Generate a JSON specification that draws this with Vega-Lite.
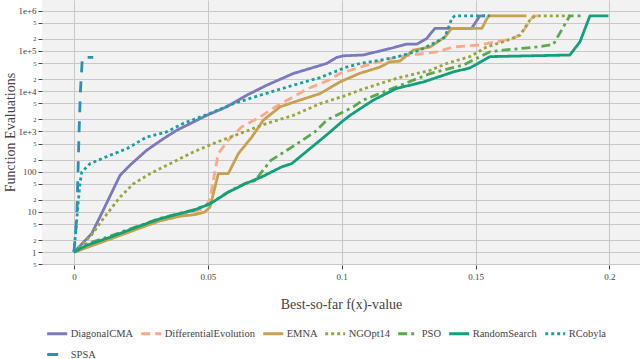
{
"$schema": "https://vega.github.io/schema/vega-lite/v6.json",
"width": 598, "height": 265,
"autosize": "none",
"padding": {"left": 42, "top": 0, "right": 0, "bottom": 94},
"background": "white",
"config": {"view": {"fill": "#f2f2f2", "stroke": null}, "font": "Liberation Serif",
 "axis": {"labelFont": "Liberation Serif", "titleFont": "Liberation Serif"},
 "legend": {"labelFont": "Liberation Serif", "labelFontWeight": "normal", "labelColor": "#444"}},
"data": {"values": [
{"s":"DiagonalCMA","x":0,"y":1},{"s":"DiagonalCMA","x":0.0066,"y":2.88},{"s":"DiagonalCMA","x":0.0109,"y":10.96},{"s":"DiagonalCMA","x":0.0172,"y":81.3},{"s":"DiagonalCMA","x":0.0209,"y":144.5},{"s":"DiagonalCMA","x":0.0271,"y":338.8},{"s":"DiagonalCMA","x":0.0334,"y":660.7},{"s":"DiagonalCMA","x":0.0384,"y":1072},{"s":"DiagonalCMA","x":0.0496,"y":2512},{"s":"DiagonalCMA","x":0.057,"y":4074},{"s":"DiagonalCMA","x":0.0645,"y":7943},{"s":"DiagonalCMA","x":0.072,"y":14125},{"s":"DiagonalCMA","x":0.0819,"y":27542},{"s":"DiagonalCMA","x":0.0944,"y":48978},{"s":"DiagonalCMA","x":0.0981,"y":69183},{"s":"DiagonalCMA","x":0.1006,"y":75858},{"s":"DiagonalCMA","x":0.108,"y":79433},{"s":"DiagonalCMA","x":0.118,"y":114815},{"s":"DiagonalCMA","x":0.1243,"y":147911},{"s":"DiagonalCMA","x":0.128,"y":147911},{"s":"DiagonalCMA","x":0.1317,"y":204174},{"s":"DiagonalCMA","x":0.1348,"y":363078},{"s":"DiagonalCMA","x":0.1485,"y":363078},{"s":"DiagonalCMA","x":0.1516,"y":750000},{"s":"DiagonalCMA","x":0.1535,"y":750000},
{"s":"DifferentialEvolution","x":0,"y":1},{"s":"DifferentialEvolution","x":0.0134,"y":2.2},{"s":"DifferentialEvolution","x":0.0234,"y":3.9},{"s":"DifferentialEvolution","x":0.0321,"y":6.3},{"s":"DifferentialEvolution","x":0.0396,"y":8.5},{"s":"DifferentialEvolution","x":0.0446,"y":10},{"s":"DifferentialEvolution","x":0.0489,"y":12.5},{"s":"DifferentialEvolution","x":0.0508,"y":21.4},{"s":"DifferentialEvolution","x":0.0527,"y":107},{"s":"DifferentialEvolution","x":0.0539,"y":281.8},{"s":"DifferentialEvolution","x":0.0576,"y":602.6},{"s":"DifferentialEvolution","x":0.0626,"y":1288},{"s":"DifferentialEvolution","x":0.0695,"y":2291},{"s":"DifferentialEvolution","x":0.0751,"y":4074},{"s":"DifferentialEvolution","x":0.0819,"y":7244},{"s":"DifferentialEvolution","x":0.0875,"y":11749},{"s":"DifferentialEvolution","x":0.095,"y":18621},{"s":"DifferentialEvolution","x":0.0993,"y":27542},{"s":"DifferentialEvolution","x":0.1043,"y":35000},{"s":"DifferentialEvolution","x":0.112,"y":50000},{"s":"DifferentialEvolution","x":0.1205,"y":70795},{"s":"DifferentialEvolution","x":0.1305,"y":87096},{"s":"DifferentialEvolution","x":0.1355,"y":95499},{"s":"DifferentialEvolution","x":0.1417,"y":125893},{"s":"DifferentialEvolution","x":0.1516,"y":141254},{"s":"DifferentialEvolution","x":0.1579,"y":169824},{"s":"DifferentialEvolution","x":0.1641,"y":204174},{"s":"DifferentialEvolution","x":0.1672,"y":275423},{"s":"DifferentialEvolution","x":0.1716,"y":750000},{"s":"DifferentialEvolution","x":0.175,"y":750000},
{"s":"EMNA","x":0,"y":1},{"s":"EMNA","x":0.0134,"y":2.1},{"s":"EMNA","x":0.0234,"y":3.7},{"s":"EMNA","x":0.0321,"y":6.0},{"s":"EMNA","x":0.0396,"y":7.8},{"s":"EMNA","x":0.0452,"y":8.6},{"s":"EMNA","x":0.0489,"y":10},{"s":"EMNA","x":0.0508,"y":13.2},{"s":"EMNA","x":0.0539,"y":89.1},{"s":"EMNA","x":0.0576,"y":89.1},{"s":"EMNA","x":0.0614,"y":281.8},{"s":"EMNA","x":0.0664,"y":724.4},{"s":"EMNA","x":0.0707,"y":1905},{"s":"EMNA","x":0.0769,"y":4074},{"s":"EMNA","x":0.0844,"y":6026},{"s":"EMNA","x":0.0919,"y":8710},{"s":"EMNA","x":0.0993,"y":16982},{"s":"EMNA","x":0.1068,"y":28000},{"s":"EMNA","x":0.1143,"y":39811},{"s":"EMNA","x":0.118,"y":53703},{"s":"EMNA","x":0.1217,"y":56000},{"s":"EMNA","x":0.1267,"y":104713},{"s":"EMNA","x":0.133,"y":125893},{"s":"EMNA","x":0.1386,"y":223872},{"s":"EMNA","x":0.141,"y":363078},{"s":"EMNA","x":0.1523,"y":363078},{"s":"EMNA","x":0.1548,"y":750000},{"s":"EMNA","x":0.169,"y":750000},
{"s":"NGOpt14","x":0,"y":1},{"s":"NGOpt14","x":0.0066,"y":2.7},{"s":"NGOpt14","x":0.0109,"y":6.76},{"s":"NGOpt14","x":0.0172,"y":23.4},{"s":"NGOpt14","x":0.0222,"y":50.1},{"s":"NGOpt14","x":0.0284,"y":89.1},{"s":"NGOpt14","x":0.0359,"y":158.5},{"s":"NGOpt14","x":0.0446,"y":309},{"s":"NGOpt14","x":0.052,"y":501},{"s":"NGOpt14","x":0.062,"y":891},{"s":"NGOpt14","x":0.072,"y":1585},{"s":"NGOpt14","x":0.0819,"y":2512},{"s":"NGOpt14","x":0.0919,"y":4898},{"s":"NGOpt14","x":0.1018,"y":7943},{"s":"NGOpt14","x":0.1068,"y":10715},{"s":"NGOpt14","x":0.1205,"y":20893},{"s":"NGOpt14","x":0.133,"y":33113},{"s":"NGOpt14","x":0.1392,"y":48978},{"s":"NGOpt14","x":0.1479,"y":72444},{"s":"NGOpt14","x":0.1541,"y":125893},{"s":"NGOpt14","x":0.1603,"y":169824},{"s":"NGOpt14","x":0.1666,"y":245471},{"s":"NGOpt14","x":0.1703,"y":588844},{"s":"NGOpt14","x":0.1722,"y":750000},{"s":"NGOpt14","x":0.1852,"y":750000},
{"s":"PSO","x":0,"y":1},{"s":"PSO","x":0.0047,"y":1.6},{"s":"PSO","x":0.0134,"y":2.5},{"s":"PSO","x":0.0234,"y":4.3},{"s":"PSO","x":0.0321,"y":6.9},{"s":"PSO","x":0.0396,"y":9.3},{"s":"PSO","x":0.0446,"y":11.2},{"s":"PSO","x":0.0508,"y":16.2},{"s":"PSO","x":0.0576,"y":31.5},{"s":"PSO","x":0.0639,"y":51},{"s":"PSO","x":0.0676,"y":60.3},{"s":"PSO","x":0.0735,"y":190.5},{"s":"PSO","x":0.0825,"y":457},{"s":"PSO","x":0.09,"y":977},{"s":"PSO","x":0.0944,"y":1905},{"s":"PSO","x":0.1043,"y":4074},{"s":"PSO","x":0.108,"y":6026},{"s":"PSO","x":0.1205,"y":12882},{"s":"PSO","x":0.133,"y":27542},{"s":"PSO","x":0.1454,"y":44668},{"s":"PSO","x":0.1516,"y":72444},{"s":"PSO","x":0.1554,"y":95499},{"s":"PSO","x":0.1603,"y":104713},{"s":"PSO","x":0.1728,"y":125893},{"s":"PSO","x":0.179,"y":144544},{"s":"PSO","x":0.1852,"y":750000},{"s":"PSO","x":0.19,"y":750000},
{"s":"RandomSearch","x":0,"y":1},{"s":"RandomSearch","x":0.0047,"y":1.48},{"s":"RandomSearch","x":0.0134,"y":2.34},{"s":"RandomSearch","x":0.0234,"y":4.17},{"s":"RandomSearch","x":0.0321,"y":6.76},{"s":"RandomSearch","x":0.0396,"y":9.12},{"s":"RandomSearch","x":0.0446,"y":10.96},{"s":"RandomSearch","x":0.0508,"y":15.85},{"s":"RandomSearch","x":0.0576,"y":30.9},{"s":"RandomSearch","x":0.0639,"y":50.1},{"s":"RandomSearch","x":0.0701,"y":74.1},{"s":"RandomSearch","x":0.0776,"y":131.8},{"s":"RandomSearch","x":0.0813,"y":158.5},{"s":"RandomSearch","x":0.0888,"y":407.4},{"s":"RandomSearch","x":0.095,"y":891},{"s":"RandomSearch","x":0.1,"y":1738},{"s":"RandomSearch","x":0.1031,"y":2512},{"s":"RandomSearch","x":0.1118,"y":6026},{"s":"RandomSearch","x":0.1205,"y":11749},{"s":"RandomSearch","x":0.1305,"y":16982},{"s":"RandomSearch","x":0.1417,"y":30200},{"s":"RandomSearch","x":0.1479,"y":38000},{"s":"RandomSearch","x":0.1554,"y":72444},{"s":"RandomSearch","x":0.1852,"y":79433},{"s":"RandomSearch","x":0.189,"y":169824},{"s":"RandomSearch","x":0.1927,"y":750000},{"s":"RandomSearch","x":0.1996,"y":750000},
{"s":"RCobyla","x":0,"y":1},{"s":"RCobyla","x":0.0006,"y":3},{"s":"RCobyla","x":0.0015,"y":15},{"s":"RCobyla","x":0.0022,"y":50},{"s":"RCobyla","x":0.0029,"y":97.7},{"s":"RCobyla","x":0.006,"y":158.5},{"s":"RCobyla","x":0.0135,"y":257},{"s":"RCobyla","x":0.0197,"y":371.5},{"s":"RCobyla","x":0.0271,"y":724.4},{"s":"RCobyla","x":0.0346,"y":977},{"s":"RCobyla","x":0.0408,"y":1585},{"s":"RCobyla","x":0.0508,"y":2818},{"s":"RCobyla","x":0.0595,"y":4898},{"s":"RCobyla","x":0.0695,"y":7943},{"s":"RCobyla","x":0.0819,"y":14125},{"s":"RCobyla","x":0.0919,"y":21878},{"s":"RCobyla","x":0.1018,"y":39811},{"s":"RCobyla","x":0.1068,"y":48978},{"s":"RCobyla","x":0.1143,"y":58884},{"s":"RCobyla","x":0.1205,"y":70795},{"s":"RCobyla","x":0.1292,"y":104713},{"s":"RCobyla","x":0.1355,"y":169824},{"s":"RCobyla","x":0.1386,"y":223872},{"s":"RCobyla","x":0.1411,"y":645654},{"s":"RCobyla","x":0.1423,"y":750000},{"s":"RCobyla","x":0.1554,"y":750000},
{"s":"SPSA","x":0,"y":1},{"s":"SPSA","x":0.0006,"y":3},{"s":"SPSA","x":0.0011,"y":10},{"s":"SPSA","x":0.0015,"y":100},{"s":"SPSA","x":0.0019,"y":1000},{"s":"SPSA","x":0.0024,"y":10000},{"s":"SPSA","x":0.003,"y":50000},{"s":"SPSA","x":0.0032,"y":69000},{"s":"SPSA","x":0.0072,"y":69000}
]},
"mark": {"type": "line", "strokeWidth": 2.8, "clip": true, "strokeJoin": "round"},
"encoding": {
"x": {"field": "x", "type": "quantitative",
 "scale": {"domain": [-0.01195, 0.2114], "nice": false, "zero": false},
 "axis": {"values": [0, 0.05, 0.1, 0.15, 0.2], "format": "~g", "title": "Best-so-far f(x)-value",
  "titleFont": "Liberation Serif", "titleFontSize": 14, "titleFontWeight": "normal", "titleColor": "#444",
  "titleBaseline": "middle", "titleY": 39,
  "labelFont": "Liberation Serif", "labelFontSize": 9, "labelColor": "#444", "labelPadding": 3,
  "tickSize": 4, "tickColor": "#444", "domain": false, "gridColor": "#c8c8c8", "gridWidth": 1}},
"y": {"field": "y", "type": "quantitative",
 "scale": {"type": "log", "domain": [0.48, 1850000], "nice": false},
 "axis": {"values": [0.5,1,2,5,10,20,50,100,200,500,1000,2000,5000,10000,20000,50000,100000,200000,500000,1000000],
  "labelExpr": "abs(log(datum.value)/LN10 - round(log(datum.value)/LN10)) < 0.001 ? (datum.value >= 1000 ? '1e+' + round(log(datum.value)/LN10) : toString(round(datum.value))) : toString(round(datum.value / pow(10, floor(log(datum.value)/LN10 + 0.001))))",
  "labelFontSize": {"condition": {"test": "abs(log(datum.value)/LN10 - round(log(datum.value)/LN10)) < 0.001", "value": 9}, "value": 6.5},
  "labelFont": "Liberation Serif", "labelColor": "#444", "labelPadding": 2,
  "title": "Function Evaluations", "titleFont": "Liberation Serif", "titleFontSize": 14, "titleFontWeight": "normal", "titleColor": "#444",
  "titleBaseline": "middle", "titleX": -32, "titleY": 132, "titleAngle": -90,
  "tickSize": 4, "tickColor": "#444", "domain": false, "gridColor": "#c8c8c8", "gridWidth": 1}},
"color": {"field": "s", "type": "nominal",
 "scale": {"domain": ["DiagonalCMA","DifferentialEvolution","EMNA","NGOpt14","PSO","RandomSearch","RCobyla","SPSA"],
  "range": ["#7a78be","#fca88a","#c9a04c","#9ca53b","#5ca84c","#12a07c","#17a0a0","#2a90b5"]},
 "legend": {"orient": "none", "legendX": 3.7, "legendY": 322, "direction": "horizontal", "columns": 7, "title": null,
  "symbolType": "stroke", "symbolSize": 400, "symbolStrokeWidth": 3, "labelFont": "Liberation Serif", "labelFontSize": 10.5, "labelFontWeight": "normal",
  "labelColor": "#444", "columnPadding": 1, "rowPadding": 3, "labelOffset": 2, "padding": 0}},
"strokeDash": {"field": "s", "type": "nominal",
 "scale": {"domain": ["DiagonalCMA","DifferentialEvolution","EMNA","NGOpt14","PSO","RandomSearch","RCobyla","SPSA"],
  "range": [[1,0],[9,5],[1,0],[3,3],[9,4,3,4],[1,0],[3,3],[11,9]]},
 "legend": {"orient": "none", "legendX": 3.7, "legendY": 322, "direction": "horizontal", "columns": 7, "title": null,
  "symbolType": "stroke", "symbolSize": 400, "symbolStrokeWidth": 3, "labelFont": "Liberation Serif", "labelFontSize": 10.5, "labelFontWeight": "normal",
  "labelColor": "#444", "columnPadding": 1, "rowPadding": 3, "labelOffset": 2, "padding": 0}}
}
}
